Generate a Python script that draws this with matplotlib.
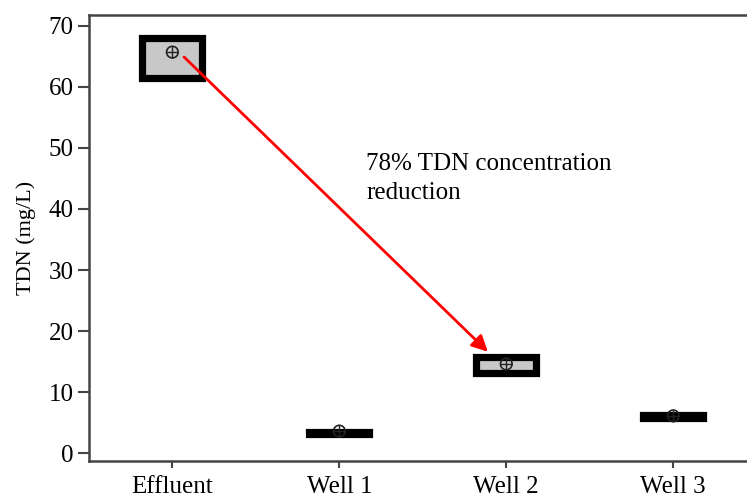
import matplotlib.pyplot as plt

# data (mg/L)
sites = ["Effluent", "Well 1", "Well 2", "Well 3"]
q1 = [61.5, 3.1, 13.2, 5.8]
q3 = [68.0, 3.5, 15.7, 6.2]
medians = [65.5, 3.3, 14.5, 6.0]
means = [65.7, 3.6, 14.6, 6.1]

plt.rcParams["font.family"] = ["Liberation Serif", "DejaVu Serif"]

fig = plt.figure(figsize=(7.47, 4.97), dpi=100)
ax = fig.add_axes([0.119, 0.0724, 0.894, 0.8976])

stats = []
for name, a, b, m, mu in zip(sites, q1, q3, medians, means):
    stats.append({"label": name, "q1": a, "q3": b, "med": m, "mean": mu,
                  "whislo": a, "whishi": b, "fliers": []})

ax.bxp(stats, positions=range(len(sites)), widths=0.36, patch_artist=True,
       showcaps=False, showfliers=False, showmeans=False,
       boxprops=dict(facecolor="#c8c8c8", edgecolor="black", linewidth=5.2),
       medianprops=dict(color="#c8c8c8", linewidth=0),
       whiskerprops=dict(linewidth=0))

# mean markers: circle with a cross
ax.scatter(range(len(sites)), means, s=70, facecolors="none", edgecolors="#222222",
           linewidths=1.2, zorder=5)
ax.scatter(range(len(sites)), means, s=70, marker="+", color="#222222",
           linewidths=1.0, zorder=5)

ax.annotate("", xy=(1.89, 16.6), xytext=(0.07, 64.9),
            arrowprops=dict(arrowstyle="-|>", color="red", lw=2,
                            mutation_scale=24, shrinkA=0, shrinkB=0))
ax.text(1.16, 49.2, "78% TDN concentration\nreduction", fontsize=18,
        va="top", ha="left", linespacing=1.4)

ax.set_xlim(-0.5, 3.5)
ax.set_ylim(-1.3, 71.8)
ax.set_yticks(range(0, 71, 10))
ax.set_xticks(range(len(sites)))
ax.set_xticklabels(sites, fontsize=18)
ax.tick_params(axis="y", labelsize=18, length=8, width=1.5, color="#444444", pad=3)
ax.tick_params(axis="x", length=5, width=1.5, color="#444444", pad=6)
ax.set_ylabel("TDN (mg/L)", fontsize=16, labelpad=9)
for s in ax.spines.values():
    s.set_color("#444444")
    s.set_linewidth(1.8)

fig.savefig("out.png", dpi=100)
